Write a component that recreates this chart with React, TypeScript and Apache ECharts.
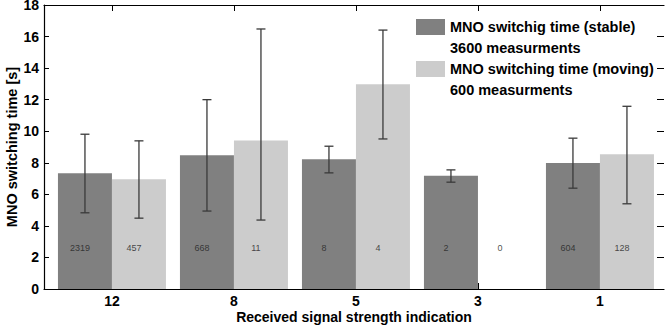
import React, { useEffect, useRef } from "react";
import * as echarts from "echarts";

const categories = ["12", "8", "5", "3", "1"];
const positions = [1, 2, 3, 4, 5];
const stableMean = [7.34, 8.48, 8.23, 7.17, 7.99];
const stableLow = [4.83, 4.94, 7.36, 6.77, 6.39];
const stableHigh = [9.81, 12.0, 9.05, 7.55, 9.56];
const movingMean = [6.96, 9.41, 12.97, 0, 8.54];
const movingLow: (number | null)[] = [4.49, 4.37, 9.51, null, 5.4];
const movingHigh: (number | null)[] = [9.39, 16.48, 16.41, null, 11.58];
const stableCounts = ["2319", "668", "8", "2", "604"];
const movingCounts = ["457", "11", "4", "0", "128"];
const countLevel = 2.6;
const yTicks = [0, 2, 4, 6, 8, 10, 12, 14, 16, 18];

const stableName = "MNO switchig time (stable)";
const stableNote = "3600 measurments";
const movingName = "MNO switching time (moving)";
const movingNote = "600 measurments";

const FONT = "'Liberation Sans', Arial, Helvetica, sans-serif";
const BAR_W = 54;
const DARK = "#808080";
const LIGHT = "#cccccc";
const ERR = "#3a3a3a";

function errorSeries(low: (number | null)[], high: (number | null)[], offset: number) {
  const data = positions
    .map((p, i) => (low[i] == null ? null : [p, low[i], high[i]]))
    .filter((d) => d != null);
  return {
    type: "custom",
    xAxisIndex: 0,
    yAxisIndex: 0,
    z: 5,
    silent: true,
    data,
    renderItem: (params: any, api: any) => {
      const x = api.value(0);
      const lo = api.coord([x, api.value(1)]);
      const hi = api.coord([x, api.value(2)]);
      const cx = lo[0] + offset;
      const cap = 4.5;
      const style = { stroke: ERR, lineWidth: 1.3 };
      return {
        type: "group",
        children: [
          { type: "line", shape: { x1: cx, y1: lo[1], x2: cx, y2: hi[1] }, style },
          { type: "line", shape: { x1: cx - cap, y1: lo[1], x2: cx + cap, y2: lo[1] }, style },
          { type: "line", shape: { x1: cx - cap, y1: hi[1], x2: cx + cap, y2: hi[1] }, style },
        ],
      };
    },
  };
}

function countSeries(counts: string[], offset: number) {
  return {
    type: "scatter",
    xAxisIndex: 0,
    yAxisIndex: 0,
    symbolSize: 0,
    silent: true,
    z: 6,
    data: positions.map((p, i) => ({ value: [p, countLevel], label: { formatter: counts[i] } })),
    label: {
      show: true,
      position: "inside",
      offset: [offset - 5, 0],
      fontSize: 9,
      fontFamily: FONT,
      color: "#222",
    },
  };
}

export default function App() {
  const ref = useRef<HTMLDivElement>(null);
  useEffect(() => {
    if (!ref.current) return;
    const chart = echarts.init(ref.current, null, { renderer: "svg" });
    const xMin = 0.443;
    const xMax = 5.525;
    chart.setOption({
      animation: false,
      backgroundColor: "#ffffff",
      textStyle: { fontFamily: FONT },
      grid: { left: 44, right: 1, top: 5, bottom: 38, containLabel: false, outerBoundsMode: "none" },
      legend: {
        orient: "vertical",
        left: 416,
        top: 19,
        padding: 0,
        itemWidth: 29,
        itemHeight: 16,
        itemGap: 5,
        selectedMode: false,
        textStyle: { fontFamily: FONT, fontSize: 14.5, fontWeight: "bold", color: "#000" },
        data: [
          { name: stableName, icon: "rect", itemStyle: { color: DARK } },
          { name: stableNote, icon: "rect", itemStyle: { opacity: 0 } },
          { name: movingName, icon: "rect", itemStyle: { color: LIGHT } },
          { name: movingNote, icon: "rect", itemStyle: { opacity: 0 } },
        ],
      },
      xAxis: [
        {
          type: "value",
          position: "bottom",
          min: xMin,
          max: xMax,
          splitLine: { show: false },
          axisLine: { show: true, onZero: false, lineStyle: { color: "#000", width: 1.2 } },
          axisTick: { show: true, inside: true, length: 6, customValues: positions, lineStyle: { color: "#000" } },
          axisLabel: {
            customValues: positions,
            formatter: (v: number) => categories[Math.round(v) - 1] ?? "",
            fontSize: 14,
            fontWeight: "bold",
            color: "#000",
            fontFamily: FONT,
            margin: 5,
          },
          name: "Received signal strength indication",
          nameLocation: "middle",
          nameGap: 21,
          nameMoveOverlap: false,
          nameTextStyle: { fontSize: 14, fontWeight: "bold", color: "#000", fontFamily: FONT },
        },
        {
          type: "value",
          position: "top",
          min: xMin,
          max: xMax,
          splitLine: { show: false },
          axisLine: { show: true, onZero: false, lineStyle: { color: "#000", width: 1.2 } },
          axisTick: { show: true, inside: true, length: 6, customValues: positions, lineStyle: { color: "#000" } },
          axisLabel: { show: false },
        },
      ],
      yAxis: [
        {
          type: "value",
          position: "left",
          min: 0,
          max: 18,
          interval: 2,
          splitLine: { show: false },
          axisLine: { show: true, onZero: false, lineStyle: { color: "#000", width: 1.2 } },
          axisTick: { show: true, inside: true, length: 5, lineStyle: { color: "#000" } },
          axisLabel: {
            customValues: yTicks,
            fontSize: 14,
            fontWeight: "bold",
            color: "#000",
            fontFamily: FONT,
            margin: 5,
          },
          name: "MNO switching time [s]",
          nameLocation: "middle",
          nameGap: 25,
          nameMoveOverlap: false,
          nameTextStyle: { fontSize: 14.5, fontWeight: "bold", color: "#000", fontFamily: FONT },
        },
        {
          type: "value",
          position: "right",
          min: 0,
          max: 18,
          interval: 2,
          splitLine: { show: false },
          axisLine: { show: false, onZero: false },
          axisTick: { show: true, inside: true, length: 7, lineStyle: { color: "#000" } },
          axisLabel: { show: false },
        },
      ],
      series: [
        {
          name: stableName,
          type: "bar",
          xAxisIndex: 0,
          yAxisIndex: 0,
          barWidth: BAR_W,
          barGap: "0%",
          itemStyle: { color: DARK },
          data: positions.map((p, i) => [p, stableMean[i]]),
        },
        {
          name: movingName,
          type: "bar",
          xAxisIndex: 0,
          yAxisIndex: 0,
          barWidth: BAR_W,
          barGap: "0%",
          itemStyle: { color: LIGHT },
          data: positions.map((p, i) => [p, movingMean[i]]),
        },
        { name: stableNote, type: "line", data: [] },
        { name: movingNote, type: "line", data: [] },
        errorSeries(stableLow, stableHigh, -BAR_W / 2),
        errorSeries(movingLow, movingHigh, BAR_W / 2),
        countSeries(stableCounts, -BAR_W / 2),
        countSeries(movingCounts, BAR_W / 2),
      ],
    });
    return () => chart.dispose();
  }, []);
  return (
    <div
      ref={ref}
      style={{ position: "fixed", left: 0, top: 0, width: 665, height: 327, background: "#fff" }}
    />
  );
}
